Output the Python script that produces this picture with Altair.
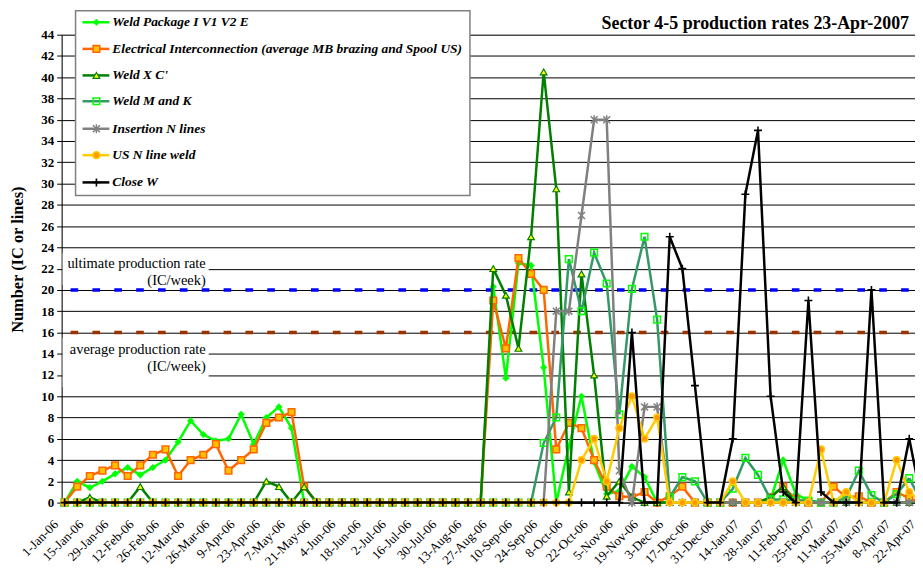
import altair as alt
import pandas as pd

FONT = "Liberation Serif"

# ---------------- data ----------------
week_labels = ["1-Jan-06", "15-Jan-06", "29-Jan-06", "12-Feb-06", "26-Feb-06", "12-Mar-06",
               "26-Mar-06", "9-Apr-06", "23-Apr-06", "7-May-06", "21-May-06", "4-Jun-06",
               "18-Jun-06", "2-Jul-06", "16-Jul-06", "30-Jul-06", "13-Aug-06", "27-Aug-06",
               "10-Sep-06", "24-Sep-06", "8-Oct-06", "22-Oct-06", "5-Nov-06", "19-Nov-06",
               "3-Dec-06", "17-Dec-06", "31-Dec-06", "14-Jan-07", "28-Jan-07", "11-Feb-07",
               "25-Feb-07", "11-Mar-07", "25-Mar-07", "8-Apr-07", "22-Apr-07"]
label_weeks = [0, 2, 4, 6, 8, 10, 12, 14, 16, 18, 20, 22, 24, 26, 28, 30, 32, 34, 36, 38,
               40, 42, 44, 46, 48, 50, 52, 54, 56, 58, 60, 62, 64, 66, 68]
weeks = list(range(69))

series_names = ["Weld Package I V1 V2  E",
                "Electrical Interconnection (average MB brazing and Spool US)",
                "Weld  X C'",
                "Weld M and K",
                "Insertion N lines",
                "US N line weld",
                "Close W"]

weld_package = [0, 2.0, 1.4, 2.0, 2.7, 3.3, 2.6, 3.3, 4.0, 5.7, 7.7, 6.4, 5.8, 6.0, 8.3, 5.5, 8.0, 9.0, 7.0, 0,
                0, 0, 0, 0, 0, 0, 0, 0, 0, 0, 0, 0, 0, 0,
                20.3, 11.7, 22.5, 22.3, 12.7, 0, 5.3, 10.0, 3.8, 0.8, 1.1, 3.4, 2.4, 0,
                0, 0, 0, 0, 0, 0, 0, 0,
                0.3, 4.0, 0.8, 0.2,
                0, 0, 0, 0, 0, 0, 0, 0, 0]
electrical = [0, 1.5, 2.5, 3.0, 3.5, 2.5, 3.5, 4.5, 5.0, 2.5, 4.0, 4.5, 5.5, 3.0, 4.0, 5.0, 7.5, 8.0, 8.5, 1.5,
              0, 0, 0, 0, 0, 0, 0, 0, 0, 0, 0, 0, 0, 0,
              19.0, 14.5, 23.0, 21.5, 20.0, 5.0, 7.5, 7.0, 4.0, 1.5, 0.6, 0.5, 1.0, 0,
              0.6, 1.5, 0, 0, 0, 0, 0, 0,
              0.5, 1.5, 0.3, 0,
              0, 1.5, 0.5, 0.6, 0, 0, 1.0, 0.4, 0]
weld_xc = [0, 0, 0.5, 0, 0, 0, 1.5, 0, 0, 0, 0, 0, 0, 0, 0, 0, 2.0, 1.5, 0, 1.5,
           0, 0, 0, 0, 0, 0, 0, 0, 0, 0, 0, 0, 0, 0,
           22.0, 19.5, 14.5, 25.0, 40.5, 29.5, 1.0, 21.5, 12.0, 0.6, 2.0, 0.5, 0, 0,
           0, 0, 0, 0, 0, 0, 0, 0,
           0.5, 1.5, 0, 0,
           0, 0, 0, 0, 0, 0, 0, 0, 0]
weld_mk = [0, 0, 0, 0, 0, 0, 0, 0, 0, 0, 0, 0, 0, 0, 0, 0, 0, 0, 0, 0,
           0, 0, 0, 0, 0, 0, 0, 0, 0, 0, 0, 0, 0, 0,
           0, 0, 0, 0, 5.6, 8.0, 22.9, 18.0, 23.5, 20.6, 8.3, 20.1, 25.0, 17.2,
           0.5, 2.4, 2.0, 0, 0, 1.3, 4.2, 2.6,
           0.3, 0.3, 0.2, 0.2,
           0, 0, 0.5, 3.0, 0.7, 0, 0.8, 2.3, 0]
insertion = [0, 0, 0, 0, 0, 0, 0, 0, 0, 0, 0, 0, 0, 0, 0, 0, 0, 0, 0, 0,
             0, 0, 0, 0, 0, 0, 0, 0, 0, 0, 0, 0, 0, 0,
             0, 0, 0, 0, 0, 18.0, 18.0, 27.0, 36.0, 36.0, 3.0, 0, 9.0, 9.0,
             0, 0, 0, 0, 0, 0, 0, 0,
             0, 0, 0, 0,
             0, 0, 0, 0, 0, 0, 0, 0, 0]
us_weld = [0, 0, 0, 0, 0, 0, 0, 0, 0, 0, 0, 0, 0, 0, 0, 0, 0, 0, 0, 0,
           0, 0, 0, 0, 0, 0, 0, 0, 0, 0, 0, 0, 0, 0,
           0, 0, 0, 0, 0, 0, 0, 4.0, 6.0, 2.0, 7.0, 10.0, 6.0, 8.0,
           0, 0, 0, 0, 0, 2.0, 0, 0,
           0, 0, 0, 0,
           5.0, 0, 1.0, 0, 0, 0, 4.0, 1.0, 0]
close_w = [0, 0, 0, 0, 0, 0, 0, 0, 0, 0, 0, 0, 0, 0, 0, 0, 0, 0, 0, 0,
           0, 0, 0, 0, 0, 0, 0, 0, 0, 0, 0, 0, 0, 0,
           0, 0, 0, 0, 0, 0, 0, 0, 0, 0, 0, 16.0, 0, 0,
           25.0, 22.0, 11.0, 0, 0, 6.0, 29.0, 35.0,
           10.0, 1.0, 0, 19.0,
           1.0, 0, 0, 0, 20.0, 0, 0, 6.0, 0]

series_values = [weld_package, electrical, weld_xc, weld_mk, insertion, us_weld, close_w]

rate_levels = [20, 16]
rate_texts = [["ultimate production rate", "(IC/week)"], ["average production rate", "(IC/week)"]]
chart_title = "Sector 4-5 production rates 23-Apr-2007"
y_title = "Number (IC or lines)"

# ---------------- tables ----------------
rows = []
for sid, vals in enumerate(series_values):
    for w, v in zip(weeks, vals):
        rows.append({"week": w, "value": v, "sid": sid, "series": series_names[sid]})
df = pd.DataFrame(rows)

# ---------------- layout / styles ----------------
W, H = 859, 471
x_scale = alt.Scale(domain=[-0.236, 67.455], nice=False, zero=False)
y_scale = alt.Scale(domain=[0, 44], nice=False, zero=False)

x_axis = alt.Axis(labels=False, ticks=False, grid=False, title=None,
                  domainColor="black", domainWidth=1)
y_axis = alt.Axis(values=list(range(0, 45, 2)), grid=True, gridColor="black", gridWidth=1,
                  domainColor="black", domainWidth=1, tickColor="black", tickSize=5,
                  labelFont=FONT, labelFontSize=13, labelFontWeight="bold", labelColor="black",
                  labelPadding=3, title=y_title, titleFont=FONT, titleFontSize=16.5,
                  titleFontWeight="bold", titleColor="black", titleX=-44, titleY=226,
                  titleAngle=270, titleAlign="center", titleBaseline="middle")

X = alt.X("week:Q", scale=x_scale, axis=x_axis)
Y = alt.Y("value:Q", scale=y_scale, axis=y_axis)

ASTER = "M-1,-1L1,1M-1,1L1,-1M0,-1.3L0,1.3"
PLUS = "M-1,0L1,0M0,-1L0,1"

styles = [
    dict(line="#00FF00", mk=dict(shape="diamond", filled=True, fill="#00FF00", stroke="#00FF00", strokeWidth=0.5, size=45)),
    dict(line="#FF6600", mk=dict(shape="square", filled=True, fill="#FFC000", stroke="#FF6600", strokeWidth=1.5, size=45)),
    dict(line="#008000", mk=dict(shape="triangle-up", filled=True, fill="#FFFF00", stroke="#008000", strokeWidth=1.2, size=45)),
    dict(line="#339966", mk=dict(shape="square", filled=False, stroke="#00FF00", strokeWidth=1.5, size=45)),
    dict(line="#808080", mk=dict(shape=ASTER, filled=False, stroke="#808080", strokeWidth=1.5, size=49)),
    dict(line="#FFCC00", mk=dict(shape="circle", filled=True, fill="#FF9900", stroke="#FFCC00", strokeWidth=1.5, size=45)),
    dict(line="#000000", mk=dict(shape=PLUS, filled=False, stroke="#000000", strokeWidth=1.6, size=64)),
]
LW = 2.5

one = pd.DataFrame({"k": [0]})
layers = []

# white boxes behind the rate annotations
for (y1, y2) in [(220, 252), (305, 355)]:
    layers.append(alt.Chart(one).mark_rect(fill="white", stroke=None).encode(
        x=alt.value(1), x2=alt.value(148), y=alt.value(y1), y2=alt.value(y2)))

# annotation texts
ann_pos = [(230.5, 247.5), (317.5, 334.5)]
for (l1, l2), (ya, yb) in zip(rate_texts, ann_pos):
    for txt, yy in [(l1, ya), (l2, yb)]:
        layers.append(alt.Chart(pd.DataFrame({"t": [txt]})).mark_text(
            align="right", baseline="middle", font=FONT, fontSize=14.5, color="black").encode(
            x=alt.value(145), y=alt.value(yy), text="t:N"))

# dashed production-rate lines
for lvl, col in zip(rate_levels, ["#0000FF", "#993300"]):
    layers.append(alt.Chart(pd.DataFrame({"value": [lvl]})).mark_rule(
        color=col, strokeWidth=3.5, strokeDash=[7.7, 14.3], strokeDashOffset=15.7).encode(y=Y))

# series
for sid, st in enumerate(styles):
    base = alt.Chart(df).transform_filter(alt.datum.sid == sid)
    layers.append(base.transform_filter(alt.datum.week <= 67).mark_line(
        color=st["line"], strokeWidth=LW).encode(x=X, y=Y))
    layers.append(base.transform_filter(alt.datum.week >= 67).mark_line(
        color=st["line"], strokeWidth=LW, clip=True).encode(x=X, y=Y))
    layers.append(base.transform_filter(alt.datum.week <= 67).mark_point(
        opacity=1, **st["mk"]).encode(x=X, y=Y))

# legend
layers.append(alt.Chart(one).mark_rect(fill="white", stroke="#808080", strokeWidth=1.5).encode(
    x=alt.value(14), x2=alt.value(411), y=alt.value(-24), y2=alt.value(162)))
leg_y = [-12.5, 14.3, 41, 67, 94.7, 121.3, 148.7]
for sid, st in enumerate(styles):
    yk = leg_y[sid]
    ent = pd.DataFrame({"series": [series_names[sid]]})
    layers.append(alt.Chart(ent).mark_rule(color=st["line"], strokeWidth=LW).encode(
        x=alt.value(21), x2=alt.value(48), y=alt.value(yk)))
    layers.append(alt.Chart(ent).mark_point(opacity=1, **st["mk"]).encode(
        x=alt.value(35), y=alt.value(yk)))
    layers.append(alt.Chart(ent).mark_text(
        align="left", baseline="middle", font=FONT, fontSize=13.5, fontWeight="bold",
        fontStyle="italic", color="black").encode(x=alt.value(51), y=alt.value(yk), text="series:N"))

# chart title
layers.append(alt.Chart(pd.DataFrame({"t": [chart_title]})).mark_text(
    align="right", baseline="alphabetic", font=FONT, fontSize=18, fontWeight="bold",
    color="black").encode(x=alt.value(853), y=alt.value(-6), text="t:N"))

# x tick labels
lab_df = pd.DataFrame({"week": label_weeks, "label": week_labels})
layers.append(alt.Chart(lab_df).mark_text(
    angle=315, align="right", baseline="middle", dx=-6, dy=-6, font=FONT, fontSize=13,
    color="black").encode(x=X, y=alt.value(H + 20), text="label:N"))

chart = alt.layer(*layers).properties(
    width=W, height=H,
    autosize=alt.AutoSizeParams(type="none"),
    padding={"left": 54, "top": 25, "right": 0, "bottom": 66},
).configure_view(stroke=None).configure(background="white")

chart.save("out.html", embed_options={"renderer": "svg", "actions": False})
